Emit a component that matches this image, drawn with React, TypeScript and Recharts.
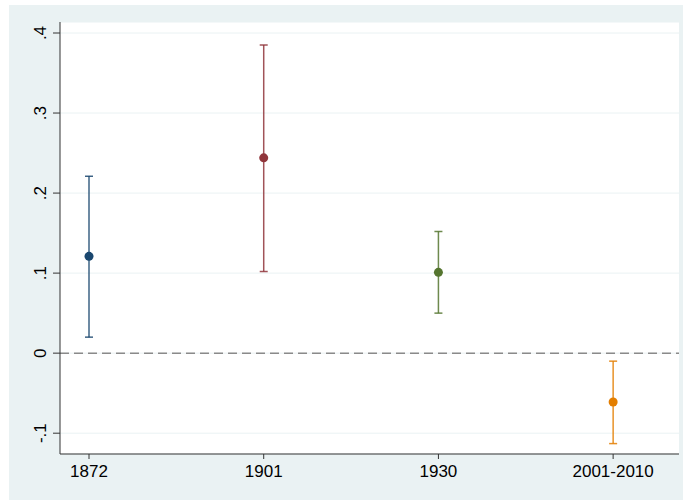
import React from 'react';
import { ComposedChart, Scatter, ErrorBar, XAxis, YAxis, CartesianGrid, ReferenceLine } from 'recharts';

const categories = ['1872', '1901', '1930', '2001-2010'];
const estimates = [0.121, 0.244, 0.101, -0.061];
const lower = [0.02, 0.102, 0.05, -0.113];
const upper = [0.221, 0.385, 0.152, -0.01];
const colors = ['#1a476f', '#90353b', '#55752f', '#e37e00'];
const yTicks = [-0.1, 0, 0.1, 0.2, 0.3, 0.4];
const yTickLabels = ['-.1', '0', '.1', '.2', '.3', '.4'];

const FONT = '"Liberation Sans", Arial, sans-serif';

const series = categories.map((c, i) => ({
  name: c,
  color: colors[i],
  data: [{ x: i + 1, y: estimates[i], err: [estimates[i] - lower[i], upper[i] - estimates[i]] }],
}));

const YTick = (props: any) => {
  const { y, payload } = props;
  const idx = yTicks.findIndex((t) => Math.abs(t - payload.value) < 1e-9);
  const label = idx >= 0 ? yTickLabels[idx] : String(payload.value);
  return (
    <text
      transform={`translate(36.5,${y}) rotate(-90)`}
      textAnchor="middle"
      fontSize={17}
      fontFamily={FONT}
      fill="#000"
    >
      {label}
    </text>
  );
};

export default function App() {
  return (
    <div style={{ position: 'absolute', left: 9, top: 5, width: 674, height: 495, background: '#EAF2F3' }}>
      <ComposedChart width={674} height={495} margin={{ top: 17, right: 4, left: 0, bottom: 0 }}>
        <CartesianGrid vertical={false} horizontal={true} stroke="#EAF2F3" fill="#ffffff" />
        <XAxis
          type="number"
          dataKey="x"
          domain={[0.834, 4.377]}
          ticks={[1, 2, 3, 4]}
          allowDataOverflow
          tickFormatter={(v: number) => categories[Math.round(v) - 1] ?? ''}
          height={46}
          tickSize={5}
          tickMargin={6}
          stroke="#333"
          tick={{ fill: '#000', fontSize: 17, fontFamily: FONT }}
          interval={0}
        />
        <YAxis
          type="number"
          dataKey="y"
          domain={[-0.126, 0.41375]}
          ticks={yTicks}
          allowDataOverflow
          width={51}
          tickSize={7}
          tickMargin={2}
          stroke="#333"
          tick={<YTick />}
          interval={0}
        />
        <ReferenceLine y={0} stroke="#8a8a8a" strokeWidth={1.5} strokeDasharray="9 5" />
        {series.map((s) => (
          <Scatter
            key={s.name}
            name={s.name}
            data={s.data}
            fill={s.color}
            isAnimationActive={false}
            shape={(p: any) => <circle cx={p.cx} cy={p.cy} r={4.5} fill={s.color} />}
          >
            <ErrorBar dataKey="err" direction="y" width={4} stroke={s.color} strokeWidth={1.5} strokeOpacity={0.85} />
          </Scatter>
        ))}
      </ComposedChart>
    </div>
  );
}
